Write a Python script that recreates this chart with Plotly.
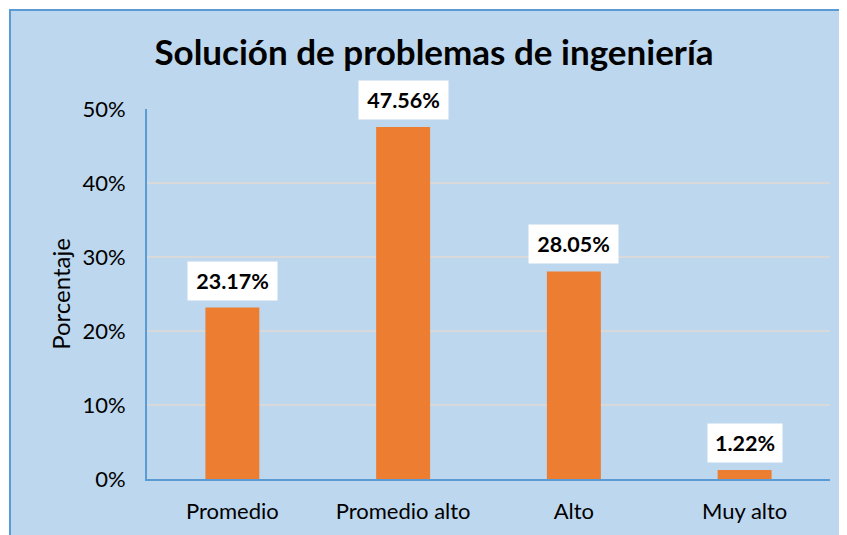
import plotly.graph_objects as go

categories = ["Promedio", "Promedio alto", "Alto", "Muy alto"]
values = [0.2317, 0.4756, 0.2805, 0.0122]
label_texts = ["23.17%", "47.56%", "28.05%", "1.22%"]
y_ticks = [0, 0.1, 0.2, 0.3, 0.4, 0.5]
y_tick_labels = ["0%", "10%", "20%", "30%", "40%", "50%"]

FONT = "Lato, Carlito, Calibri, sans-serif"
BG = "#BDD7EE"

W, H = 839, 527
L, R, T, B = 139, 17, 101, 56
PW, PH = W - L - R, H - T - B

fig = go.Figure()
fig.add_trace(go.Bar(
    x=categories, y=values, marker=dict(color="#ED7D31", line=dict(width=0)),
    width=0.316, hoverinfo="skip", showlegend=False,
))

for c, v, t in zip(categories, values, label_texts):
    fig.add_annotation(
        x=c, y=v, xref="x", yref="y", text=f"<b>{t}</b>", showarrow=False,
        yanchor="bottom", yshift=7, bgcolor="white", borderpad=4,
        width=81 if len(t) > 5 else 66, height=30,
        font=dict(family=FONT, size=21.5, color="black"),
    )

# outer chart area with border (starts 2px inside the figure)
fig.add_shape(type="rect", xref="paper", yref="paper",
              x0=(2 - L) / PW, x1=(W + 20 - L) / PW,
              y0=-(B + 20) / PH, y1=1 + (T - 2) / PH,
              fillcolor=BG, line=dict(color="#5B9BD5", width=2), layer="below")

fig.update_layout(
    width=W, height=H,
    margin=dict(l=L, r=R, t=T, b=B),
    paper_bgcolor="white", plot_bgcolor="rgba(0,0,0,0)",
    font=dict(family=FONT, size=22, color="black"),
    title=dict(text="<b>Solución de problemas de ingeniería</b>",
               x=426 / W, xref="container", xanchor="center",
               y=(H - 45) / H, yanchor="middle",
               font=dict(family=FONT, size=35, color="black")),
    bargap=0.684,
    xaxis=dict(showline=True, linecolor="#5B9BD5", linewidth=2, ticks="",
               showgrid=False, tickfont=dict(size=22), fixedrange=True,
               ticklabelstandoff=12),
    yaxis=dict(range=[0, 0.5], tickvals=y_ticks, ticktext=y_tick_labels,
               showline=True, linecolor="#5B9BD5", linewidth=2,
               gridcolor="#D9D9D9", gridwidth=1.5, zeroline=False,
               ticks="", ticklabelstandoff=15,
               title=dict(text="Porcentaje", font=dict(size=24), standoff=5),
               tickfont=dict(size=22), fixedrange=True),
)

fig.write_html("out.html")
